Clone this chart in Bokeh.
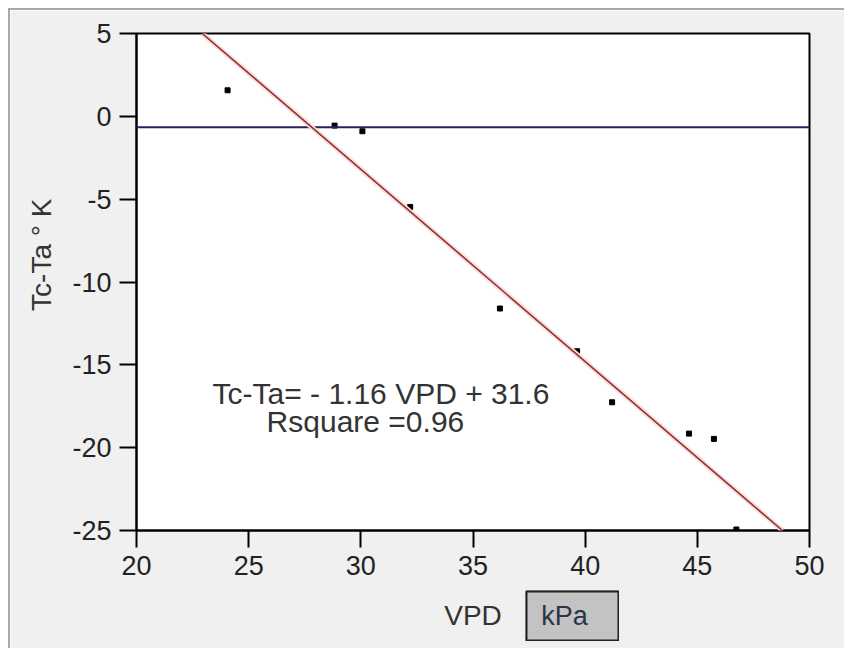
from bokeh.plotting import figure
from bokeh.models import Range1d, Span, Slope, Label, FixedTicker, ColumnDataSource
from bokeh.embed import file_html
from bokeh.resources import INLINE

# data
vpd = [24.06, 28.83, 30.07, 32.2, 36.2, 39.64, 41.2, 44.63, 45.74, 46.74]
tc_ta = [1.57, -0.56, -0.9, -5.47, -11.6, -14.18, -17.26, -19.15, -19.47, -24.94]
fit_slope = -1.16
fit_intercept = 31.6
ref_level = -0.66
x_ticks = [20, 25, 30, 35, 40, 45, 50]
y_ticks = [-25, -20, -15, -10, -5, 0, 5]
eq_text = "Tc-Ta= - 1.16 VPD + 31.6"
r2_text = "Rsquare =0.96"
x_title = "VPD"
x_unit = "kPa"
y_title = "Tc-Ta ° K"

FONT = "Liberation Sans"

p = figure(width=836, height=640, output_backend="svg", toolbar_location=None,
           x_range=Range1d(20, 50), y_range=Range1d(-25, 5),
           min_border_left=126, min_border_top=23, min_border_right=37, min_border_bottom=120)
p.styles = {"margin-left": "8px", "margin-top": "8px",
            "border-left": "2px solid #a8a8a8", "border-top": "2px solid #a8a8a8"}
p.background_fill_color = "white"
p.border_fill_color = "#f0f0f0"
p.outline_line_color = "black"
p.outline_line_width = 2
p.grid.visible = False

for ax in (p.xaxis[0], p.yaxis[0]):
    ax.axis_line_color = "black"
    ax.axis_line_width = 2
    ax.major_tick_line_color = "black"
    ax.major_tick_line_width = 2
    ax.major_tick_out = 17
    ax.major_tick_in = 0
    ax.minor_tick_line_color = None
    ax.major_label_text_font = FONT
    ax.major_label_text_font_size = "27px"
    ax.major_label_text_color = "#222222"
    ax.axis_label_text_font = FONT
    ax.axis_label_text_font_style = "normal"
    ax.axis_label_text_font_size = "28px"
    ax.axis_label_text_color = "#333333"
p.xaxis.ticker = FixedTicker(ticks=x_ticks)
p.yaxis.ticker = FixedTicker(ticks=y_ticks)
p.xaxis.major_label_overrides = {t: str(t) for t in x_ticks}
p.yaxis.major_label_overrides = {t: str(t) for t in y_ticks}
p.xaxis.major_label_standoff = 8
p.yaxis.major_label_standoff = 8

p.xaxis.axis_label = x_title
p.xaxis.axis_label_standoff = 22
p.yaxis.axis_label = "\u00a0" * 7 + y_title
p.yaxis.axis_label_standoff = 12

# reference horizontal line
p.add_layout(Span(location=ref_level, dimension="width", line_color="#2a1f5c", line_width=2))

# regression line with faint pink halo
p.add_layout(Slope(gradient=fit_slope, y_intercept=fit_intercept, line_color="#fadcdc", line_width=5))
p.add_layout(Slope(gradient=fit_slope, y_intercept=fit_intercept, line_color="#8b2a2a", line_width=1.5))

src = ColumnDataSource(dict(x=vpd, y=tc_ta))
p.scatter("x", "y", source=src, marker="square", size=5, color="black")

p.add_layout(Label(x=23.39, y=-16.75, text=eq_text, text_font=FONT, text_font_size="30px",
                   text_color="#333333", text_baseline="alphabetic"))
p.add_layout(Label(x=25.8, y=-18.4, text=r2_text, text_font=FONT, text_font_size="30px",
                   text_color="#333333", text_baseline="alphabetic"))

# unit box next to the x-axis title (separate small svg figure placed over the page)
pu = figure(width=94, height=51, output_backend="svg", toolbar_location=None,
            x_range=Range1d(0, 1), y_range=Range1d(0, 1),
            x_axis_type=None, y_axis_type=None, min_border=1)
pu.styles = {"position": "absolute", "left": "525px", "top": "590px"}
pu.grid.visible = False
pu.background_fill_color = "#c3c3c3"
pu.border_fill_color = "#222222"
pu.outline_line_color = "#222222"
pu.outline_line_width = 2
pu.add_layout(Label(x=0.16, y=0.5, text=x_unit, text_font=FONT, text_font_size="27px",
                    text_color="#2a3548", text_align="left", text_baseline="middle"))

open("out.html", "w").write(file_html([p, pu], INLINE))
